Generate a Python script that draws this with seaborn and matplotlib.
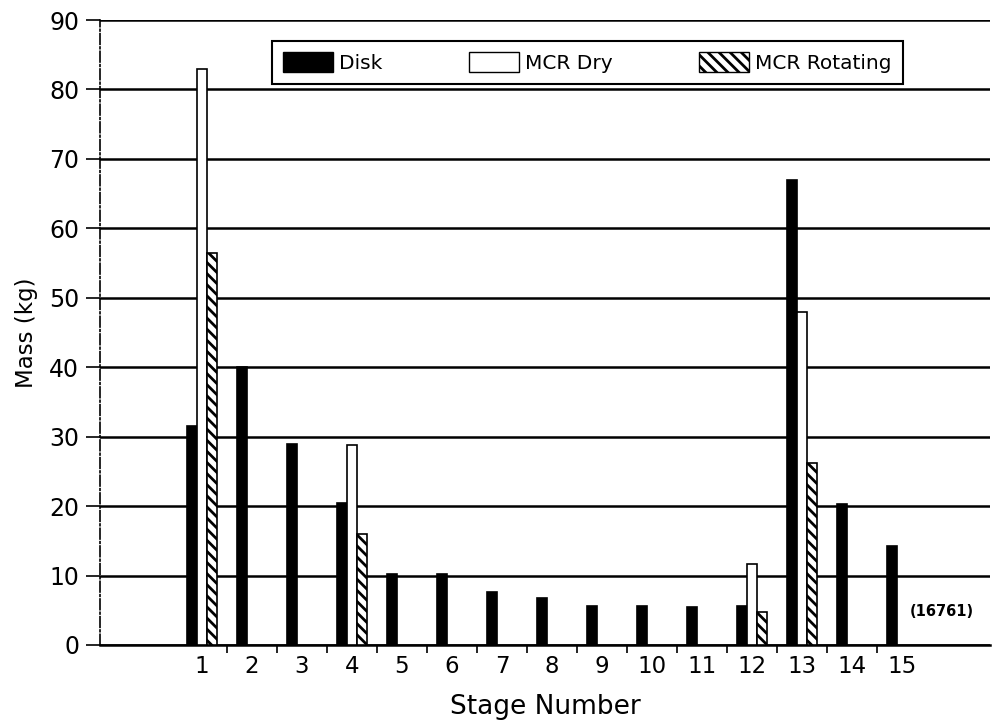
import numpy as np
import pandas as pd
import matplotlib
matplotlib.use("Agg")
import matplotlib.pyplot as plt
import seaborn as sns
from matplotlib.patches import Patch

stages = [str(i) for i in range(1, 16)]
disk = [31.5, 40, 29, 20.5, 10.2, 10.2, 7.7, 6.8, 5.6, 5.6, 5.5, 5.6, 67, 20.3, 14.3]
mcr_dry = [83, np.nan, np.nan, 28.8, np.nan, np.nan, np.nan, np.nan, np.nan, np.nan, np.nan, 11.7, 48, np.nan, np.nan]
mcr_rot = [56.5, np.nan, np.nan, 16, np.nan, np.nan, np.nan, np.nan, np.nan, np.nan, np.nan, 4.8, 26.2, np.nan, np.nan]
series = ["Disk", "MCR Dry", "MCR Rotating"]

df = pd.DataFrame({
    "Stage": stages * 3,
    "Type": [series[0]] * 15 + [series[1]] * 15 + [series[2]] * 15,
    "Mass": disk + mcr_dry + mcr_rot,
})

sns.set_theme(style="white")
plt.rcParams["font.family"] = ["DejaVu Sans"]
plt.rcParams["hatch.linewidth"] = 2.0
for k in ["text.color", "axes.labelcolor", "xtick.color", "ytick.color"]:
    plt.rcParams[k] = "black"

fig = plt.figure(figsize=(9.95, 7.24), dpi=100)
ax = fig.add_axes([100 / 995, 1 - 645 / 724, 890 / 995, 625 / 724])

sns.barplot(data=df, x="Stage", y="Mass", hue="Type", hue_order=series, order=stages,
            palette={"Disk": "black", "MCR Dry": "white", "MCR Rotating": "white"},
            width=0.6, edgecolor="black", linewidth=1.2, saturation=1, errorbar=None,
            legend=False, ax=ax, zorder=3)

for bar in ax.containers[2]:
    bar.set_hatch("\\\\\\")

ax.set_ylim(0, 90)
ax.set_xlim(-2.04, 15.76)
ax.set_yticks(range(0, 91, 10))
ax.yaxis.grid(True, color="black", linewidth=1.8)
ax.set_axisbelow(True)
ax.tick_params(axis="y", labelsize=17, length=10, width=1.2, color="black", left=True, pad=5)
ax.tick_params(axis="x", labelsize=16.5, length=0, pad=7)
ax.set_xticks(np.arange(0.5, 13.6, 1.0), minor=True)
ax.tick_params(axis="x", which="minor", length=6, width=1.2, color="black", bottom=True)

for s in ["top", "right"]:
    ax.spines[s].set_visible(False)
ax.spines["left"].set_linestyle("-.")
ax.spines["left"].set_color("black")
ax.spines["left"].set_linewidth(1.2)
ax.spines["bottom"].set_color("black")
ax.spines["bottom"].set_linewidth(1.8)

ax.set_xlabel("Stage Number", fontsize=19, labelpad=12)
ax.set_ylabel("Mass (kg)", fontsize=16.5, labelpad=8)

handles = [
    Patch(facecolor="black", edgecolor="black", label=series[0]),
    Patch(facecolor="white", edgecolor="black", label=series[1]),
    Patch(facecolor="white", edgecolor="black", hatch="\\\\\\", label=series[2]),
]
leg = ax.legend(handles=handles, ncol=3, loc="upper left",
                bbox_to_anchor=(0.193, 0.966, 0.709, 0.0), mode="expand",
                frameon=True, fancybox=False, edgecolor="black", framealpha=1,
                fontsize=14.5, handlelength=2.5, handleheight=1.1, borderaxespad=0,
                borderpad=0.55, handletextpad=0.3, columnspacing=1.0)
leg.get_frame().set_linewidth(1.5)
leg.set_zorder(5)

ax.text(14.16, 4.8, "(16761)", fontsize=10.5, fontweight="bold", ha="left", va="center")

fig.savefig("out.png", dpi=100)
